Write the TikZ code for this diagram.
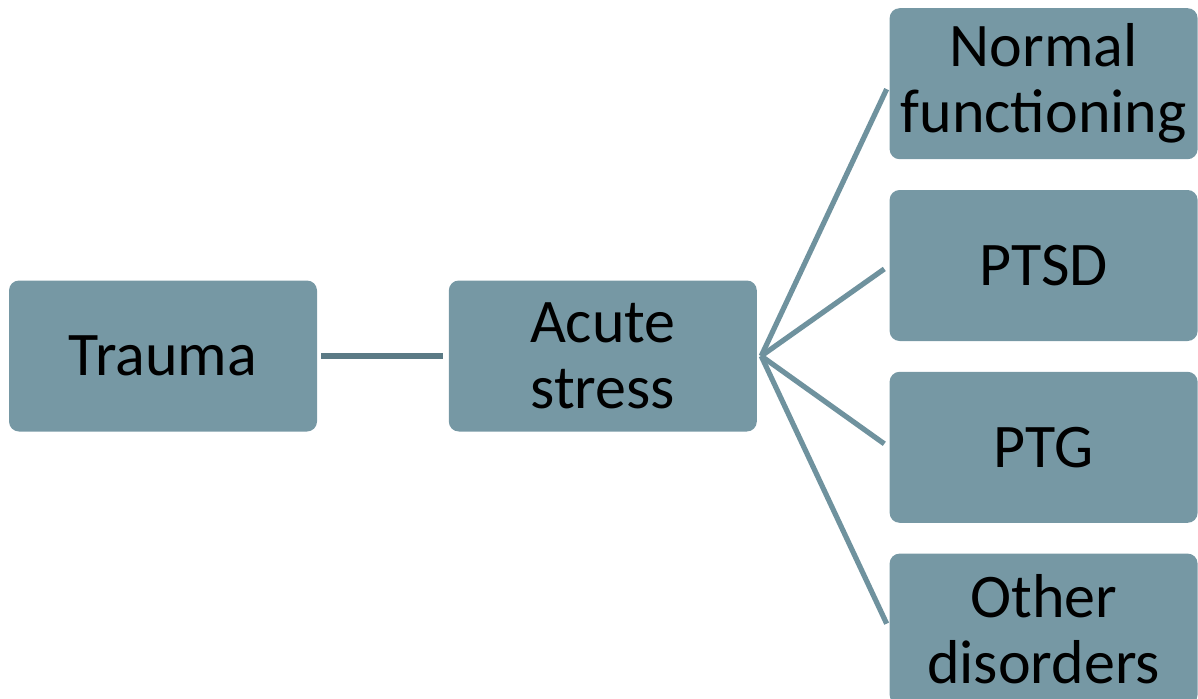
\documentclass[tikz,border=0pt]{standalone}
\usepackage{fontspec}
\setmainfont{Carlito}
\usetikzlibrary{positioning,calc}
\definecolor{boxfill}{HTML}{7698A4}
\definecolor{linkdark}{HTML}{5B7A85}
\definecolor{linkfan}{HTML}{6F929E}

\begin{document}
\begin{tikzpicture}[
    x=1pt,y=1pt,
    node distance=65.5pt,
    stage/.style={fill=boxfill,rounded corners=5pt,align=center,
      minimum width=154pt,minimum height=75.5pt,inner sep=0pt,
      font=\fontsize{31}{33}\selectfont},
    link/.style={line width=2.6pt,shorten >=2.5pt,shorten <=2pt}]
    \useasboundingbox (0,0) rectangle (599,349);
    \node [stage] (trauma) at (81.5,171) {Trauma};
    \node [stage,right=of trauma] (acute) {Acute\\stress};

    \node [stage,right=66pt of acute,yshift=45.25pt] (ptsd) {PTSD};
    \node [stage,above=15pt of ptsd] (normal) {Normal\\functioning};
    \node [stage,below=15pt of ptsd] (ptg) {PTG};
    \node [stage,below=15pt of ptg] (other) {Other\\disorders};

    \draw [link,linkdark] (trauma) -- (acute);
    \coordinate (hub) at ($(acute.east)+(2pt,0)$);
    \foreach \out in {normal,ptsd,ptg,other}
      \draw [link,linkfan,shorten <=0pt,shorten >=3pt] (hub) -- (\out.west);
\end{tikzpicture}
\end{document}
